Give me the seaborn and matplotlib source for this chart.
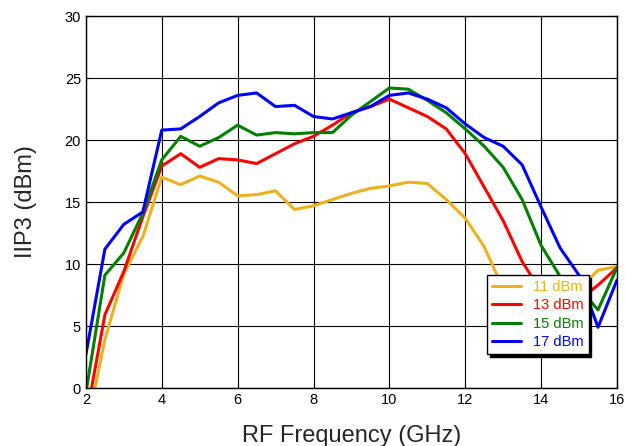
import numpy as np
import pandas as pd
import matplotlib
matplotlib.use("Agg")
import matplotlib.pyplot as plt
import seaborn as sns

# frecuencias (GHz) y curvas IIP3 (dBm)
freq = [2.0, 2.5, 3.0, 3.5, 4.0, 4.5, 5.0, 5.5, 6.0, 6.5, 7.0, 7.5, 8.0, 8.5, 9.0,
        9.5, 10.0, 10.5, 11.0, 11.5, 12.0, 12.5, 13.0, 13.5, 14.0, 14.5, 15.0, 15.5, 16.0]

iip3_11 = [-3.6, 3.9, 9.2, 12.2, 17.0, 16.4, 17.1, 16.6, 15.5, 15.6, 15.9, 14.4, 14.7, 15.2, 15.7,
           16.1, 16.3, 16.6, 16.5, 15.2, 13.7, 11.4, 8.0, 7.0, 7.2, 7.5, 8.0, 9.5, 9.8]
iip3_13 = [-2.5, 5.9, 9.4, 13.8, 17.9, 18.9, 17.8, 18.5, 18.4, 18.1, 18.9, 19.7, 20.3, 21.2, 22.2,
           22.7, 23.3, 22.6, 21.9, 20.9, 18.9, 16.2, 13.5, 10.2, 7.8, 7.2, 7.1, 8.3, 9.7]
iip3_15 = [-0.4, 9.1, 10.9, 14.1, 18.4, 20.3, 19.5, 20.2, 21.2, 20.4, 20.6, 20.5, 20.6, 20.6, 22.0,
           23.1, 24.2, 24.1, 23.2, 22.2, 20.9, 19.5, 17.8, 15.2, 11.5, 9.0, 8.1, 6.3, 9.7]
iip3_17 = [2.7, 11.2, 13.2, 14.2, 20.8, 20.9, 21.9, 23.0, 23.6, 23.8, 22.7, 22.8, 21.9, 21.7, 22.2,
           22.7, 23.6, 23.8, 23.3, 22.6, 21.3, 20.2, 19.5, 18.0, 14.6, 11.3, 9.1, 4.9, 8.7]

labels = ["11 dBm", "13 dBm", "15 dBm", "17 dBm"]
colores = ["#EDB120", "#FF0000", "#008000", "#0000FF"]

df = pd.DataFrame({
    "freq": freq * 4,
    "iip3": iip3_11 + iip3_13 + iip3_15 + iip3_17,
    "pin": np.repeat(labels, len(freq)),
})

sns.set_style("white")
plt.rcParams["font.family"] = ["Liberation Sans", "DejaVu Sans"]

fig = plt.figure(figsize=(6.27, 4.46), dpi=100)
ax = fig.add_axes([0.137, 0.130, 0.847, 0.834])

sns.lineplot(data=df, x="freq", y="iip3", hue="pin", hue_order=labels,
             palette=colores, linewidth=2.2, ax=ax, legend=True)

ax.set_xlim(2, 16)
ax.set_ylim(0, 30)
ax.set_xticks(range(2, 17, 2))
ax.set_yticks(range(0, 31, 5))
ax.grid(True, color="black", linewidth=0.8)
ax.set_axisbelow(True)
for s in ax.spines.values():
    s.set_color("black")
    s.set_linewidth(1.0)
ax.tick_params(direction="in", length=3, top=True, right=True,
               labelsize=10.5, colors="black", bottom=True, left=True)
ax.set_xlabel("RF Frequency (GHz)", fontsize=17, labelpad=13)
ax.set_ylabel("IIP3 (dBm)", fontsize=17, labelpad=20)

leg = ax.legend(loc="upper left", bbox_to_anchor=(0.755, 0.304), borderaxespad=0,
                fancybox=False, shadow={"color": "black", "alpha": 1.0}, edgecolor="black",
                framealpha=1, fontsize=10.5, handlelength=2.0,
                borderpad=0.35, labelspacing=0.3, handletextpad=0.8)
leg.get_frame().set_linewidth(1.0)
for txt, c in zip(leg.get_texts(), colores):
    txt.set_color(c)

fig.savefig("out.png", dpi=100)
